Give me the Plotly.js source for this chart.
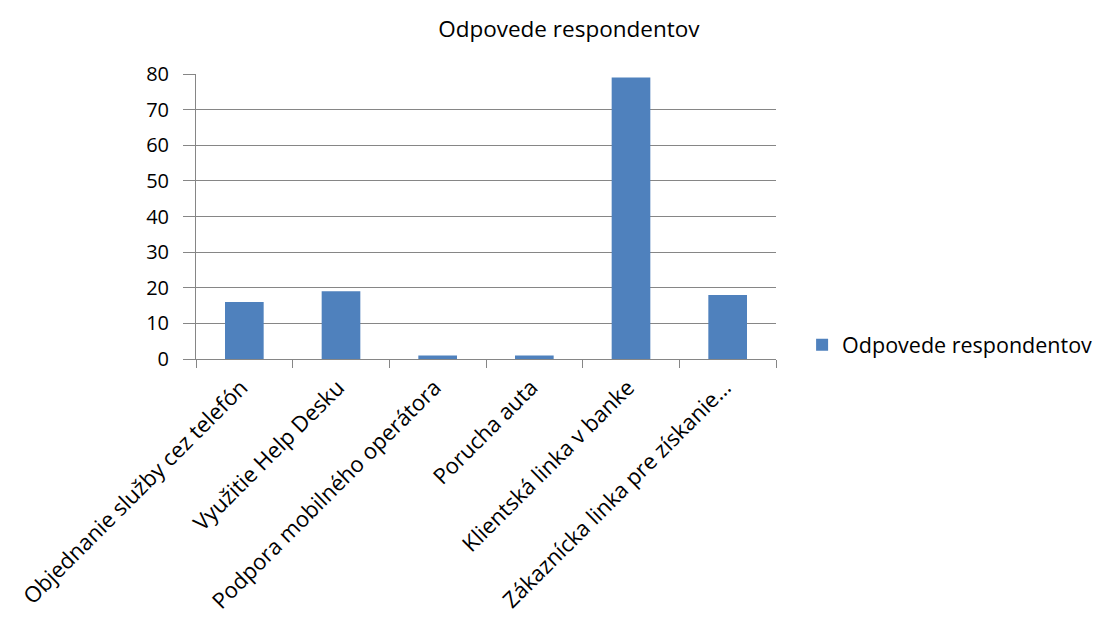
<!DOCTYPE html>
<html><head><meta charset="utf-8">
<script src="https://cdn.plot.ly/plotly-3.0.1.min.js"></script>
<style>body{margin:0;background:#fff}#c{width:1111px;height:623px}</style>
</head><body><div id="c"></div>
<script>
const categories = ["Objednanie služby cez telefón","Využitie Help Desku","Podpora mobilného operátora","Porucha auta","Klientská linka v banke","Zákaznícka linka pre získanie…"];
const values = [16, 19, 1, 1, 79, 18];
const seriesName = "Odpovede respondentov";
const yTicks = [0,10,20,30,40,50,60,70,80];

const trace = {
  type: 'bar', x: categories, y: values, name: seriesName,
  marker: {color: '#4F81BD', line: {color: '#4A7EBB', width: 0}},
  showlegend: true
};
const layout = {
  width: 1111, height: 623,
  margin: {l: 196, r: 335, t: 74, b: 264},
  paper_bgcolor: '#fff', plot_bgcolor: '#fff',
  font: {family: 'Open Sans, sans-serif', color: '#000'},
  title: {text: 'Odpovede respondentov', x: 0.512, xanchor: 'center', y: 0.953, yanchor: 'middle', font: {size: 22.5, color: '#000'}},
  bargap: 0.6,
  xaxis: {
    type: 'category', tickangle: -45, tickfont: {size: 22, color: '#000'},
    showline: true, linecolor: '#868686', linewidth: 1,
    ticks: 'outside', ticklen: 8, tickcolor: '#868686', tickson: 'boundaries',
    ticklabelstandoff: 6, ticklabelshift: -3,
    showgrid: false, automargin: false
  },
  yaxis: {
    range: [0, 80], tickvals: yTicks, ticktext: yTicks.map(String),
    tickfont: {size: 20, color: '#000'},
    showline: true, linecolor: '#868686', linewidth: 1,
    ticks: 'outside', ticklen: 12, tickcolor: '#868686',
    ticklabelstandoff: 10,
    showgrid: true, gridcolor: '#868686', gridwidth: 1, zeroline: false,
    automargin: false
  },
  legend: {x: 1.045, xanchor: 'left', y: 0.05, yanchor: 'middle', font: {size: 21.5, color: '#000'}, itemwidth: 30, bgcolor: 'rgba(0,0,0,0)'}
};
Plotly.newPlot('c', [trace], layout, {staticPlot: true});
</script></body></html>
